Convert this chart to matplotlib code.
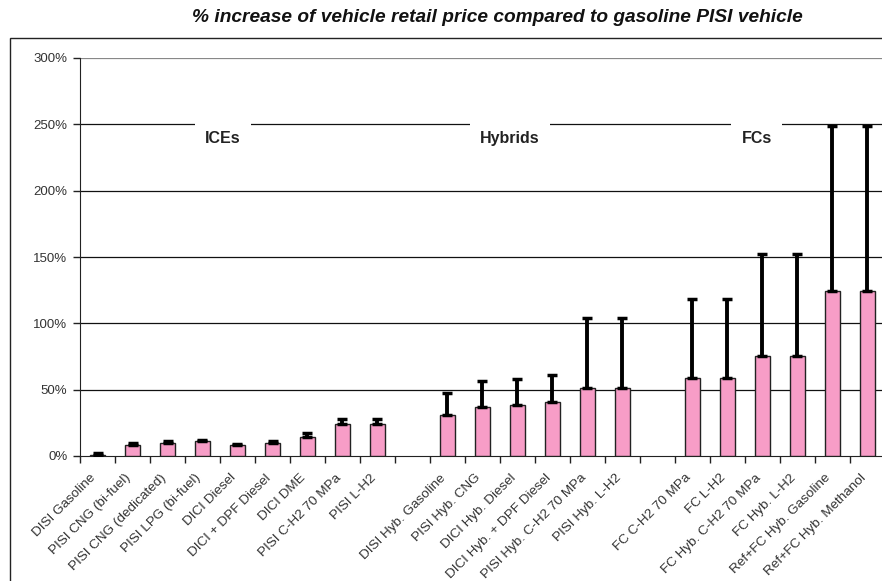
import numpy as np
import matplotlib
matplotlib.use("Agg")
import matplotlib.pyplot as plt
from matplotlib.patches import Rectangle

plt.rcParams['font.family'] = ['Liberation Sans', 'DejaVu Sans']

categories = [
    "DISI Gasoline", "PISI CNG (bi-fuel)", "PISI CNG (dedicated)", "PISI LPG (bi-fuel)",
    "DICI Diesel", "DICI + DPF Diesel", "DICI DME", "PISI C-H2 70 MPa", "PISI L-H2",
    "",
    "DISI Hyb. Gasoline", "PISI Hyb. CNG", "DICI Hyb. Diesel", "DICI Hyb. + DPF Diesel",
    "PISI Hyb. C-H2 70 MPa", "PISI Hyb. L-H2",
    "",
    "FC C-H2 70 MPa", "FC L-H2", "FC Hyb. C-H2 70 MPa", "FC Hyb. L-H2",
    "Ref+FC Hyb. Gasoline", "Ref+FC Hyb. Methanol",
]
# % increase (bar value) and upper bound of error bar (%)
values = [1, 8, 10, 11, 8, 10, 14, 24, 24,
          np.nan,
          31, 37, 38.5, 40.5, 51, 51,
          np.nan,
          59, 59, 75.5, 75.5, 124.5, 124.5]
upper = [2, 10, 11, 12, 9, 11, 17, 28, 28,
         np.nan,
         47.5, 56.5, 58, 61, 104, 104,
         np.nan,
         118.5, 118.5, 152.5, 152.5, 249, 249]
group_labels = ["ICEs", "Hybrids", "FCs"]

title = "% increase of vehicle retail price compared to gasoline PISI vehicle"

W, H = 882, 581
fig = plt.figure(figsize=(W / 100, H / 100), dpi=100)
fig.patch.set_facecolor('white')

# chart-area frame
fig.patches.append(Rectangle((10 / W, -0.1), 1.2, (H - 38) / H + 0.1,
                             transform=fig.transFigure, fill=False,
                             edgecolor='#222222', linewidth=1.0, zorder=0))

ax = fig.add_axes([80 / W, 1 - 456 / H, 805 / W, (456 - 58) / H])
x = np.arange(len(categories))
vals = np.array(values, dtype=float)
up = np.array(upper, dtype=float)

ax.bar(x, vals, width=0.45, color='#F79DC7', edgecolor='#222222', linewidth=1.0, zorder=3)
mask = ~np.isnan(vals)
ax.errorbar(x[mask], vals[mask], yerr=[np.zeros(mask.sum()), (up - vals)[mask]],
            fmt='none', ecolor='black', elinewidth=2.8, capsize=3.6, capthick=2.5, zorder=4)

ax.set_xlim(-0.5, len(categories) - 0.5)
ax.set_ylim(0, 300)
yt = np.arange(0, 301, 50)
ax.set_yticks(yt)
ax.set_yticklabels([f"{v}%" for v in yt], fontsize=9.5, color='#333333')
for v in yt[1:]:
    ax.axhline(v, color='#111111' if v < 300 else '#888888', linewidth=0.9, zorder=1)

ax.set_xticks(np.arange(len(categories) + 1) - 0.5, minor=False)
ax.set_xticklabels([])
ax.tick_params(axis='x', direction='out', length=5, width=1, color='#222222')
ax.tick_params(axis='y', direction='out', length=5, width=1, color='#222222', pad=4)

for i, c in enumerate(categories):
    if c:
        ax.text(i - 0.22, -12, c, rotation=45, rotation_mode='anchor',
                ha='right', va='top', fontsize=9.7, color='#333333')

for s in ['top', 'right']:
    ax.spines[s].set_visible(False)
ax.spines['left'].set_color('#222222')
ax.spines['bottom'].set_color('#222222')

for lbl, gx in zip(group_labels, [3.59, 11.79, 18.84]):
    ax.text(gx, 239.6, lbl, ha='center', va='center', fontsize=11.5,
            fontweight='bold', color='#222222', zorder=5,
            bbox=dict(boxstyle='square,pad=0.65', facecolor='white', edgecolor='none'))

fig.text(497 / W, 1 - 18 / H, title, ha='center', va='center', fontsize=13.8,
         fontweight='bold', fontstyle='italic', color='#111111')

fig.savefig('out.png', dpi=100)
